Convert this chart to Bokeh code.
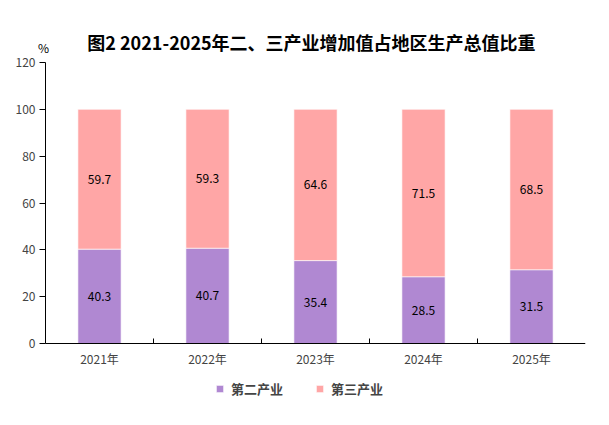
from bokeh.plotting import figure
from bokeh.models import (ColumnDataSource, Range1d, FixedTicker, Label, Legend, LegendItem)
from bokeh.core.properties import value
from bokeh.embed import file_html
from bokeh.resources import INLINE

years = ["2021年", "2022年", "2023年", "2024年", "2025年"]
secondary = [40.3, 40.7, 35.4, 28.5, 31.5]
tertiary = [59.7, 59.3, 64.6, 71.5, 68.5]
series_names = ["第二产业", "第三产业"]
colors = ["#B088D2", "#FFA6A6"]
y_ticks = [0, 20, 40, 60, 80, 100, 120]
title_text = "图2  2021-2025年二、三产业增加值占地区生产总值比重"
unit_text = "%"

FONT = "Noto Sans CJK SC"

# layout (pixels): frame spans the whole canvas so annotations are not clipped
AXIS_LEFT_PX = 45       # pixel column of the y axis
PLOT_W_PX = 540         # width of the category area
FRAME_W, FRAME_H = AXIS_LEFT_PX + PLOT_W_PX, 402
ZERO_PX = 343           # pixel row of y=0 from top of canvas
PX_PER_UNIT = 281 / 120
y_top = ZERO_PX / PX_PER_UNIT
y_bot = -(FRAME_H - ZERO_PX) / PX_PER_UNIT
x_left = -AXIS_LEFT_PX * len(years) / PLOT_W_PX

centers = [i + 0.5 for i in range(len(years))]
src = ColumnDataSource(dict(
    x=centers,
    secondary=secondary,
    tertiary=tertiary,
    sec_mid=[s / 2 for s in secondary],
    ter_mid=[s + t / 2 for s, t in zip(secondary, tertiary)],
    sec_lbl=[f"{v:.1f}" for v in secondary],
    ter_lbl=[f"{v:.1f}" for v in tertiary],
))

p = figure(frame_width=FRAME_W, frame_height=FRAME_H, output_backend="svg",
           toolbar_location=None,
           x_range=Range1d(x_left, len(years)), y_range=Range1d(y_bot, y_top),
           min_border_left=0, min_border_right=15, min_border_top=0,
           min_border_bottom=0)
p.outline_line_color = None
p.xgrid.visible = False
p.ygrid.visible = False

r = p.vbar_stack(["secondary", "tertiary"], x="x", width=0.4, color=colors,
                 line_color="white", line_alpha=0.6, source=src)

p.text(x="x", y="sec_mid", text="sec_lbl", source=src, text_align="center",
       text_baseline="middle", text_font=value(FONT), text_font_size="12px",
       text_color="black")
p.text(x="x", y="ter_mid", text="ter_lbl", source=src, text_align="center",
       text_baseline="middle", text_font=value(FONT), text_font_size="12px",
       text_color="black")

# y axis, placed at x=0 inside the frame
p.yaxis.fixed_location = 0
p.yaxis.ticker = FixedTicker(ticks=y_ticks)
p.yaxis.bounds = (y_ticks[0], y_ticks[-1])
p.yaxis.major_tick_out = 6
p.yaxis.major_tick_in = 0
p.yaxis.minor_tick_line_color = None
p.yaxis.major_label_text_font = FONT
p.yaxis.major_label_text_font_size = "12px"
p.yaxis.axis_line_color = "black"
p.yaxis.major_label_standoff = 4

# x axis, placed at y=0 inside the frame
p.xaxis.fixed_location = 0
p.xaxis.bounds = (0, len(years))
p.xaxis.ticker = FixedTicker(ticks=centers, minor_ticks=list(range(1, len(years))))
p.xaxis.major_label_overrides = {c: y for c, y in zip(centers, years)}
p.xaxis.major_tick_in = 0
p.xaxis.major_tick_out = 0
p.xaxis.minor_tick_in = 5
p.xaxis.minor_tick_out = 0
p.xaxis.minor_tick_line_color = "black"
p.xaxis.major_label_text_font = FONT
p.xaxis.major_label_text_font_size = "12px"
p.xaxis.major_label_standoff = 6
p.xaxis.axis_line_color = "black"

# title and unit
p.add_layout(Label(x=len(years) / 2, y=y_ticks[-1], text=title_text,
                   x_offset=-2, y_offset=21, text_align="center",
                   text_baseline="middle", text_font=FONT,
                   text_font_size="18px", text_font_style="bold",
                   text_color="black"))
p.add_layout(Label(x=0, y=y_ticks[-1], text=unit_text, x_offset=-2, y_offset=15,
                   text_align="center", text_baseline="middle",
                   text_font=FONT, text_font_size="12px", text_color="black"))

legend = Legend(items=[LegendItem(label=series_names[i], renderers=[r[i]])
                       for i in range(2)],
                orientation="horizontal", location=(AXIS_LEFT_PX + 170, 4),
                glyph_width=9, glyph_height=9, label_height=20,
                label_standoff=7, spacing=32, padding=0, margin=0,
                label_text_font=FONT, label_text_font_size="13px",
                label_text_font_style="bold", border_line_color=None,
                background_fill_alpha=0)
p.add_layout(legend)

open("out.html", "w").write(file_html(p, INLINE))
